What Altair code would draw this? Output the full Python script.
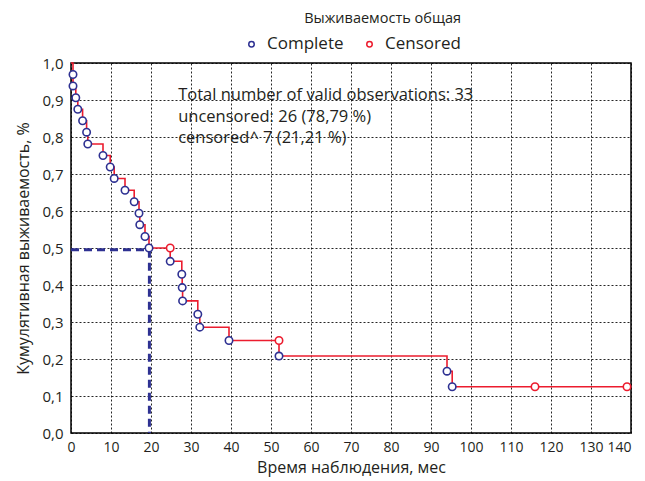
import altair as alt
import pandas as pd

# Kaplan-Meier curve, values
complete_time = [0.5, 0.5, 1.2, 1.7, 2.9, 3.9, 4.2, 8.0, 9.8, 10.8, 13.5, 15.8, 17.0, 17.2,
                 18.5, 19.5, 24.8, 27.7, 27.8, 27.9, 31.7, 32.2, 39.5, 52.0, 94.0, 95.3]
complete_surv = [0.969, 0.938, 0.906, 0.875, 0.844, 0.813, 0.781, 0.750, 0.719, 0.688, 0.656,
                 0.625, 0.594, 0.563, 0.531, 0.500, 0.464, 0.429, 0.393, 0.357, 0.321, 0.286,
                 0.250, 0.208, 0.167, 0.125]
censored_time = [24.8, 52.0, 116.0, 139.0]
censored_surv = [0.500, 0.250, 0.125, 0.125]
start_time, start_surv = 0.0, 1.0
end_time, end_surv = 140.0, 0.125
median_time = 19.6
median_surv = 0.495

note_lines = ["Total number of valid observations: 33",
              "uncensored: 26 (78,79 %)",
              "censored^ 7 (21,21 %)"]
note_x = 26.8
note_y = [0.913, 0.855, 0.797]

x_ticks = list(range(0, 141, 10))
y_ticks = [0.0, 0.1, 0.2, 0.3, 0.4, 0.5, 0.6, 0.7, 0.8, 0.9, 1.0]

FONT = "Open Sans"
TXT = "#231f20"
BLUE = "#2e3192"
RED = "#ec1c2e"

curve = pd.DataFrame({
    "t": [start_time] + complete_time + [end_time],
    "s": [start_surv] + complete_surv + [end_surv],
})
curve["i"] = range(len(curve))

pts = pd.concat([
    pd.DataFrame({"t": complete_time, "s": complete_surv, "kind": "Complete"}),
    pd.DataFrame({"t": censored_time, "s": censored_surv, "kind": "Censored"}),
])

med = pd.DataFrame({
    "x": [0.0, median_time], "x2": [median_time, median_time],
    "y": [median_surv, median_surv], "y2": [median_surv, 0.0],
})
notes = pd.DataFrame({"t": [note_x] * 3, "s": note_y, "txt": note_lines})

xs = alt.Scale(domain=[0, 140], nice=False, zero=False)
ys = alt.Scale(domain=[0, 1], nice=False)

lab_comma = "replace(format(datum.value, '.1f'), '.', ',')"

xaxis = alt.Axis(values=x_ticks, title="Время наблюдения, мес", grid=True,
                 labelFontSize=14, titleFontSize=16, labelPadding=7, titlePadding=5,
                 tickSize=0, domain=False, labelOverlap=False, labelFlush=False,
                 labelAlign={"condition": {"test": "datum.value >= 140", "value": "right"},
                             "value": "center"})
yaxis = alt.Axis(values=y_ticks, title="Кумулятивная выживаемость, %", grid=True,
                 labelExpr=lab_comma, labelFontSize=15, titleFontSize=16,
                 labelPadding=8, titlePadding=10, tickSize=0, domain=False,
                 labelOverlap=False, labelFlush=False)

X = alt.X("t:Q", scale=xs, axis=xaxis)
Y = alt.Y("s:Q", scale=ys, axis=yaxis)

median_lines = alt.Chart(med).mark_rule(color=BLUE, strokeWidth=3, strokeDash=[8, 5]).encode(
    x=alt.X("x:Q", scale=xs, axis=xaxis), x2="x2:Q",
    y=alt.Y("y:Q", scale=ys, axis=yaxis), y2="y2:Q",
)

step = alt.Chart(curve).mark_line(color=RED, strokeWidth=1.6, interpolate="step-after").encode(
    x=X, y=Y, order="i:Q",
)

points = alt.Chart(pts).mark_point(shape="circle", filled=True, fill="white", opacity=1,
                                   size=55, strokeWidth=1.6).encode(
    x=X, y=Y,
    stroke=alt.Stroke("kind:N",
                      scale=alt.Scale(domain=["Complete", "Censored"], range=[BLUE, RED]),
                      legend=alt.Legend(title="Выживаемость общая", orient="none",
                                        direction="horizontal", legendX=172, legendY=-51,
                                        titleAnchor="end", titleFontSize=14.5,
                                        titleFontWeight="normal", titleColor=TXT,
                                        titlePadding=9, labelFontSize=17, labelColor=TXT,
                                        symbolSize=30, symbolStrokeWidth=1.5,
                                        symbolType="circle", columnPadding=17,
                                        labelOffset=7)),
)

text = alt.Chart(notes).mark_text(align="left", baseline="middle", fontSize=16.5,
                                  color=TXT, font=FONT).encode(
    x=X, y=Y, text="txt:N",
)

chart = alt.layer(median_lines, step, points, text).properties(
    width=560, height=370,
    autosize=alt.AutoSizeParams(type="none"),
    padding={"left": 63, "top": 55, "right": 5, "bottom": 50},
).configure_view(
    stroke="black", strokeWidth=1.5
).configure_axis(
    gridColor="#000", gridDash=[2, 2], gridOpacity=0.85, gridWidth=1,
    labelFont=FONT, titleFont=FONT, labelColor=TXT, titleColor=TXT,
    titleFontWeight="normal",
).configure_legend(
    labelFont=FONT, titleFont=FONT,
)

chart.save("out.html", embed_options={"renderer": "svg", "actions": False})
